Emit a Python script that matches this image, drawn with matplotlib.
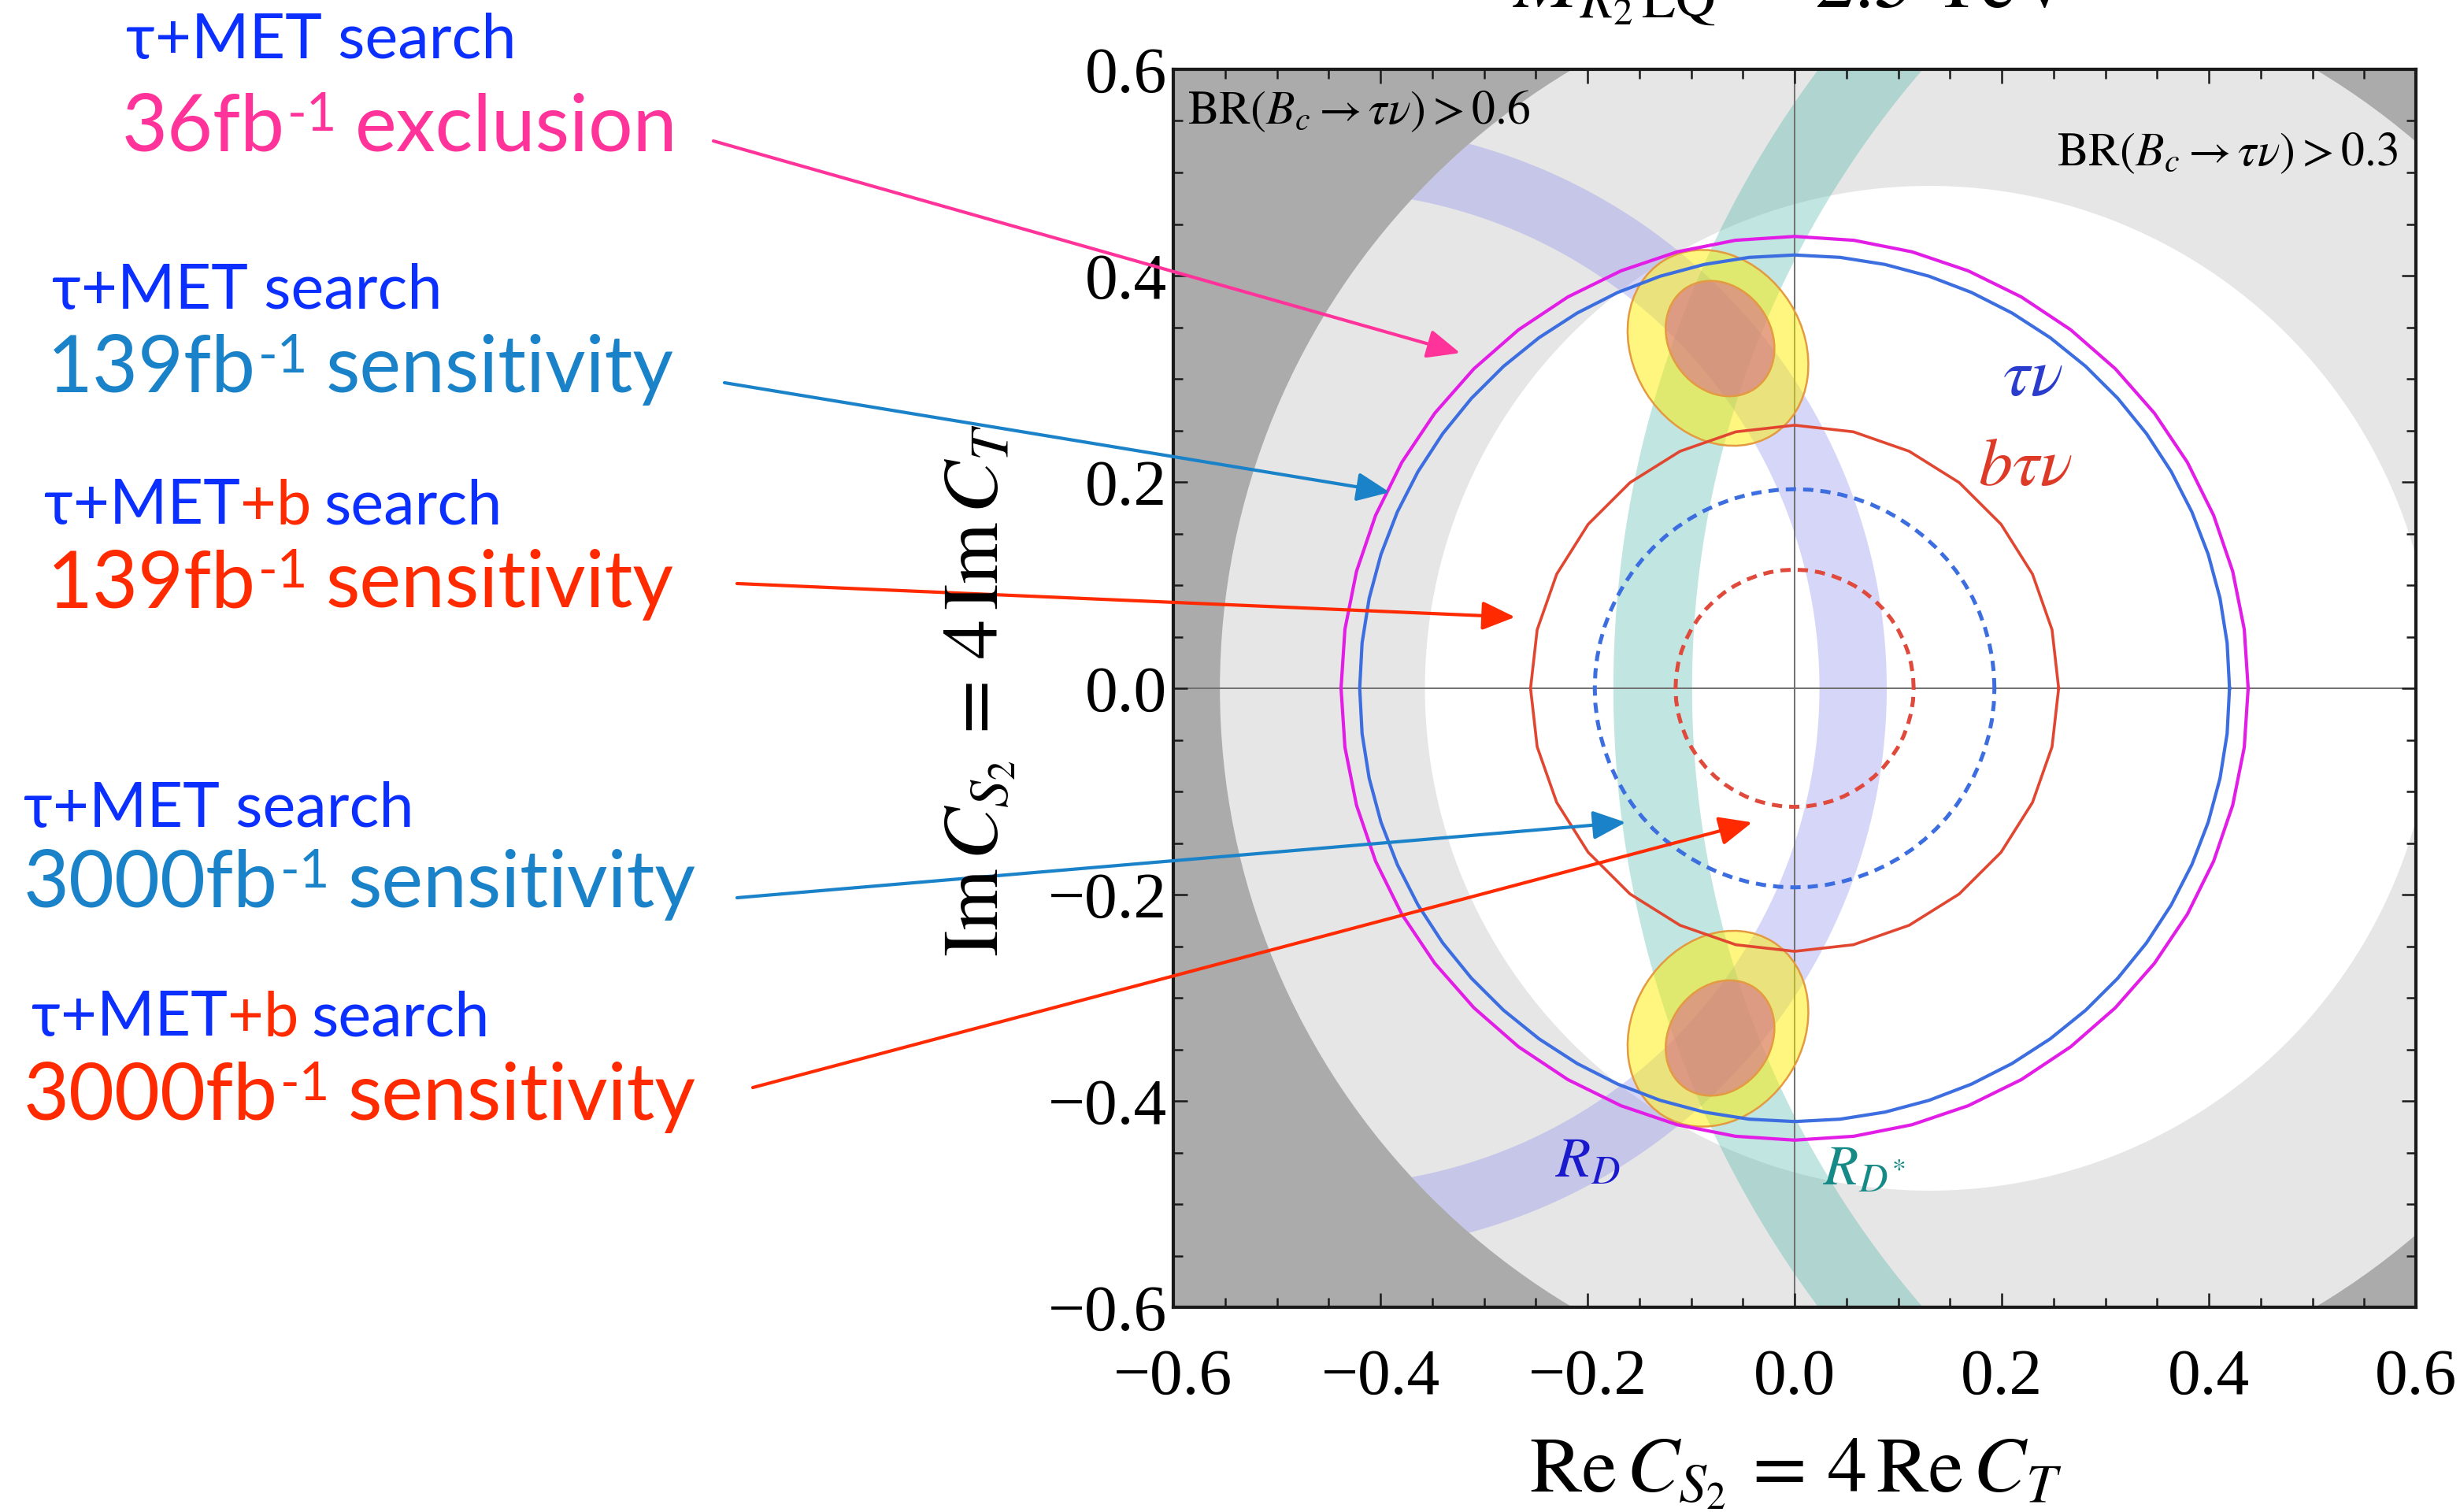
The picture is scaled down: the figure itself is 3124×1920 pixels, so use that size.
import numpy as np
import matplotlib
matplotlib.use("Agg")
import matplotlib.pyplot as plt
from matplotlib.patches import Circle, Ellipse, Polygon, PathPatch
from matplotlib.path import Path
from matplotlib.ticker import MultipleLocator

# ---------------- data ----------------
# BR(Bc -> tau nu) regions: circles centred on the real axis
br_levels = ["BR>0.3 boundary", "allowed (white)"]
br_center_x = [0.144, 0.130]
br_radius = [0.699, 0.487]

# R_D band (annulus centred on the real axis)
rd_center_x = -0.458
rd_radii = [0.482, 0.547]

# R_D* band (between two circles centred on the real axis)
rds_center_x = [0.833, 0.820]
rds_radius = [1.008, 0.919]

# Best-fit ellipses (outer / inner), upper solution (lower = mirror)
ell_center_x = [-0.074, -0.072]
ell_center_y = [0.330, 0.339]
ell_major = [0.199, 0.118]
ell_minor = [0.164, 0.098]
ell_angle = [122.0, 125.0]

# search contours (circles around origin)
contour_names = ["36fb-1 tau nu exclusion", "139fb-1 tau nu", "139fb-1 b tau nu",
                 "3000fb-1 tau nu", "3000fb-1 b tau nu"]
contour_radius = [0.438, 0.420, 0.255, 0.193, 0.115]
contour_npts = [48, 60, 28, 80, 60]

# ticks
tick_values = [-0.6, -0.4, -0.2, 0.0, 0.2, 0.4, 0.6]
tick_labels = ["\u22120.6", "\u22120.4", "\u22120.2", "0.0", "0.2", "0.4", "0.6"]

# arrow heads (data coords) for the annotations
arrow_head_x = [-0.323, -0.391, -0.270, -0.163, -0.041]
arrow_head_y = [0.325, 0.190, 0.069, -0.130, -0.130]

# ---------------- figure ----------------
W, H = 3124, 1920
plt.rcParams["mathtext.fontset"] = "stix"
plt.rcParams["font.family"] = ["Liberation Serif", "DejaVu Serif"]

fig = plt.figure(figsize=(W / 100, H / 100), dpi=100)
ax = fig.add_axes([1490 / W, (H - 1660) / H, 1578 / W, 1572 / H])
ax.set_xlim(-0.6, 0.6)
ax.set_ylim(-0.6, 0.6)
ax.set_facecolor("#ababab")

light = Circle((br_center_x[0], 0), br_radius[0], fc="#e6e6e6", ec="none", zorder=0.5)
ax.add_patch(light)
white = Circle((br_center_x[1], 0), br_radius[1], fc="white", ec="none", zorder=0.6)
ax.add_patch(white)

# R_D band
th = np.linspace(0, 2 * np.pi, 400)
outer = np.c_[rd_center_x + rd_radii[1] * np.cos(th), rd_radii[1] * np.sin(th)]
inner = np.c_[rd_center_x + rd_radii[0] * np.cos(th[::-1]), rd_radii[0] * np.sin(th[::-1])]
verts = np.vstack([outer, outer[:1], inner, inner[:1]])
codes = ([Path.MOVETO] + [Path.LINETO] * (len(outer) - 1) + [Path.CLOSEPOLY]
         + [Path.MOVETO] + [Path.LINETO] * (len(inner) - 1) + [Path.CLOSEPOLY])
rd_patch = PathPatch(Path(verts, codes), fc="#8c8cf0", alpha=0.35, ec="none", zorder=1)
ax.add_patch(rd_patch)
rd_patch.set_clip_path(light)

# R_D* band
phi = np.deg2rad(np.linspace(128, 232, 200))
left_edge = np.c_[rds_center_x[0] + rds_radius[0] * np.cos(phi), rds_radius[0] * np.sin(phi)]
right_edge = np.c_[rds_center_x[1] + rds_radius[1] * np.cos(phi[::-1]), rds_radius[1] * np.sin(phi[::-1])]
rds_patch = Polygon(np.vstack([left_edge, right_edge]), closed=True, fc="#40b0a0",
                    alpha=0.32, ec="none", zorder=1.1)
ax.add_patch(rds_patch)
rds_patch.set_clip_path(light)

# zero lines
ax.axhline(0, color="#707070", lw=1.4, zorder=1.5)
ax.axvline(0, color="#707070", lw=1.4, zorder=1.5)

# ellipses (upper and mirrored lower)
fills = [("#ffee00", 0.5), ("#d8708a", 0.62)]
for sgn in (1, -1):
    for i in range(2):
        e = Ellipse((ell_center_x[i], sgn * ell_center_y[i]), ell_major[i], ell_minor[i],
                    angle=sgn * ell_angle[i], fc=fills[i][0], alpha=fills[i][1],
                    ec="none", zorder=2 + i)
        ax.add_patch(e)
        e2 = Ellipse((ell_center_x[i], sgn * ell_center_y[i]), ell_major[i], ell_minor[i],
                     angle=sgn * ell_angle[i], fc="none", ec="#e49a40", lw=1.8, zorder=2.5 + i)
        ax.add_patch(e2)

# contours
cstyle = [dict(color="#e21ee6", lw=3.0, ls="-"),
          dict(color="#3c6ee0", lw=3.0, ls="-"),
          dict(color="#e04630", lw=2.6, ls="-"),
          dict(color="#3c6ee0", lw=3.6, ls=(0, (2.6, 1.8))),
          dict(color="#e04a3c", lw=3.6, ls=(0, (2.6, 1.8)))]
for r, n, st in zip(contour_radius, contour_npts, cstyle):
    t = np.linspace(0, 2 * np.pi, n + 1)
    ax.plot(r * np.cos(t), r * np.sin(t), zorder=4, **st)

# in-plot labels
ax.text(0.230, 0.300, r"$\tau\nu$", color="#2a3ccc", fontsize=62, ha="center", va="center", zorder=6)
ax.text(0.223, 0.213, r"$b\tau\nu$", color="#dd3a28", fontsize=62, ha="center", va="center", zorder=6)
ax.text(-0.200, -0.460, r"$R_D$", color="#1a1acc", fontsize=52, ha="center", va="center", zorder=6)
ax.text(0.067, -0.468, r"$R_{D^{*}}$", color="#168a86", fontsize=52, ha="center", va="center", zorder=6)
ax.text(-0.586, 0.5475, r"$\mathrm{BR}(B_c\rightarrow\tau\nu)>0.6$", fontsize=43,
        ha="left", va="baseline", zorder=6)
ax.text(0.5825, 0.507, r"$\mathrm{BR}(B_c\rightarrow\tau\nu)>0.3$", fontsize=43,
        ha="right", va="baseline", zorder=6)

# axes style
ax.set_xticks(tick_values, tick_labels)
ax.set_yticks(tick_values, tick_labels)
ax.xaxis.set_minor_locator(MultipleLocator(0.05))
ax.yaxis.set_minor_locator(MultipleLocator(0.05))
ax.tick_params(which="both", direction="in", top=True, right=True, color="#1a1a1a", width=1.8,
               labelsize=60, zorder=10)
ax.tick_params(which="major", length=13)
ax.tick_params(which="minor", length=8.5)
ax.tick_params(axis="x", pad=38)
ax.tick_params(axis="y", pad=6)
for sp in ax.spines.values():
    sp.set_linewidth(3)
    sp.set_color("#1a1a1a")
    sp.set_zorder(10)

fig.text(2280 / W, 1 - 1895 / H, r"$\mathrm{Re}\,C_{S_2}\,=\,4\,\mathrm{Re}\,C_T$",
         ha="center", va="baseline", fontsize=72)
fig.text(1245 / W, 1 - 877 / H, r"$\mathrm{Im}\,C_{S_2}\,=\,4\,\mathrm{Im}\,C_T$",
         ha="center", va="center", rotation=90, fontsize=72)
fig.text(2276 / W, 1 - 8 / H, r"$M_{R_2\,\mathrm{LQ}}\,=\,2.5\ \mathrm{TeV}$",
         ha="center", va="baseline", fontsize=72)

# ---------------- left-hand annotations ----------------
BLUE = "#0a2fff"
PINK = "#ff3399"
SKY = "#1a82c8"
RED = "#ff2a00"
SMALL, BIG, SUP = 57, 72, 48
renderer = fig.canvas.get_renderer()


def line(x_px, base_px, pieces):
    x = x_px
    for txt, col, size, rise, gap in pieces:
        x += gap
        t = fig.text(x / W, (H - base_px + rise) / H, txt, color=col, fontsize=size,
                     family=["Lato", "DejaVu Sans"], ha="left", va="baseline")
        x = t.get_window_extent(renderer=renderer).x1
    return x


def lumi(x_px, base_px, num, word, col):
    return line(x_px, base_px, [(num + "fb", col, BIG, 0, 0), ("-1", col, SUP, 25, 3),
                                (word, col, BIG, 0, 22)])


line(160, 74, [("\u03c4+MET search", BLUE, SMALL, 0, 0)])
lumi(155, 191, "36", "exclusion", PINK)
line(66, 392, [("\u03c4+MET search", BLUE, SMALL, 0, 0)])
lumi(60, 498, "139", "sensitivity", SKY)
line(56, 665, [("\u03c4+MET", BLUE, SMALL, 0, 0), ("+b", RED, SMALL, 0, 0), ("search", BLUE, SMALL, 0, 16)])
lumi(60, 771, "139", "sensitivity", RED)
line(30, 1050, [("\u03c4+MET search", BLUE, SMALL, 0, 0)])
lumi(30, 1152, "3000", "sensitivity", SKY)
line(40, 1315, [("\u03c4+MET", BLUE, SMALL, 0, 0), ("+b", RED, SMALL, 0, 0), ("search", BLUE, SMALL, 0, 16)])
lumi(30, 1422, "3000", "sensitivity", RED)

arrow_tail_px = [(906, 179), (920, 486), (936, 741), (936, 1140), (956, 1381)]
arrow_col = [PINK, SKY, RED, SKY, RED]
for (tx, ty), hx, hy, c in zip(arrow_tail_px, arrow_head_x, arrow_head_y, arrow_col):
    ax.annotate("", xy=(hx, hy), xycoords="data", xytext=(tx / W, 1 - ty / H),
                textcoords="figure fraction", annotation_clip=False,
                arrowprops=dict(arrowstyle="-|>,head_length=0.8,head_width=0.35", color=c,
                                lw=3, mutation_scale=32, shrinkA=0, shrinkB=0), zorder=12)

fig.savefig("out.png", dpi=100)
